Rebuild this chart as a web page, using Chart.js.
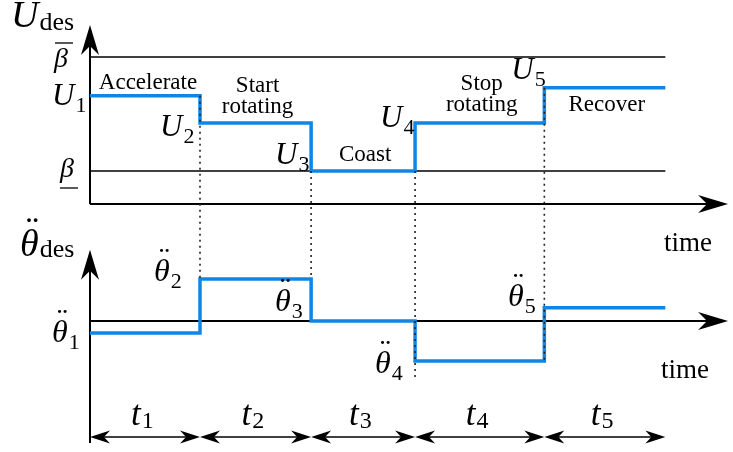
<!DOCTYPE html>
<html>
<head>
<meta charset="utf-8">
<script src="https://cdn.jsdelivr.net/npm/chart.js@4.4.0/dist/chart.umd.min.js"></script>
<style>
  html, body { margin: 0; padding: 0; background: #fff; }
</style>
</head>
<body>
<canvas id="chart" width="733" height="452"></canvas>
<script>
// phase boundaries (time units)
const tBounds = [0, 1.0, 2.01, 2.955, 4.13, 5.23];
const phaseNames = [['Accelerate'], ['Start', 'rotating'], ['Coast'], ['Stop', 'rotating'], ['Recover']];
// thrust command per phase, with the bounds beta_min = 0 and beta_max = 1
const uValues = [0.66, 0.42, 0, 0.42, 0.73];
const betaMin = 0;
const betaMax = 1;
// desired angular acceleration per phase
const thetaValues = [-0.3, 1.05, 0, -1.0, 0.33];
const tEnd = 5.8;

const BLUE = '#0f86e6';
const SERIF = '"Liberation Serif", "DejaVu Serif", serif';

function stepPoints(vals) {
  const pts = vals.map((v, i) => ({ x: tBounds[i], y: v }));
  pts.push({ x: tBounds[tBounds.length - 1], y: vals[vals.length - 1] });
  return pts;
}

function arrowHead(ctx, x, y, dir, len, half) {
  // dir: angle in radians the arrow points to
  ctx.save();
  ctx.translate(x, y);
  ctx.rotate(dir);
  ctx.beginPath();
  ctx.moveTo(0, 0);
  ctx.lineTo(-len, -half);
  ctx.lineTo(-len * 0.7, 0);
  ctx.lineTo(-len, half);
  ctx.closePath();
  ctx.fillStyle = '#000';
  ctx.fill();
  ctx.restore();
}

function line(ctx, x1, y1, x2, y2) {
  ctx.beginPath();
  ctx.moveTo(x1, y1);
  ctx.lineTo(x2, y2);
  ctx.stroke();
}

// italic symbol with upright subscript, x = left, y = baseline
function mathLabel(ctx, sym, sub, x, y, size, subSize, subDrop, dots) {
  ctx.textAlign = 'left';
  ctx.textBaseline = 'alphabetic';
  ctx.fillStyle = '#000';
  ctx.font = 'italic ' + size + 'px ' + SERIF;
  ctx.fillText(sym, x, y);
  const w = ctx.measureText(sym).width;
  if (dots) {
    // double dot accent above the symbol
    ctx.font = size + 'px ' + SERIF;
    ctx.textAlign = 'center';
    ctx.fillText('\u00A8', x + w / 2 + size * 0.08, y - size * 0.36);
    ctx.textAlign = 'left';
  }
  ctx.font = subSize + 'px ' + SERIF;
  ctx.fillText(sub, x + w + 1, y + subDrop);
}

const diagram = {
  id: 'diagram',
  beforeDatasetsDraw(chart) {
    const ctx = chart.ctx;
    const xs = chart.scales.x, yu = chart.scales.yU, yt = chart.scales.yT;
    const x0 = xs.getPixelForValue(0), xe = xs.getPixelForValue(tEnd);
    ctx.save();
    ctx.strokeStyle = '#000';
    // top panel axes
    ctx.lineWidth = 2;
    const topAxisY = yu.getPixelForValue(-0.29);
    const topTip = yu.getPixelForValue(1.28);
    line(ctx, x0, topAxisY, x0, topTip + 20);
    line(ctx, x0, topAxisY, xe - 20, topAxisY);
    arrowHead(ctx, x0, topTip, -Math.PI / 2, 30, 9);
    arrowHead(ctx, xe, topAxisY, 0, 30, 9);
    // bounds
    ctx.lineWidth = 1.3;
    const xl = xs.getPixelForValue(tBounds[tBounds.length - 1]);
    line(ctx, x0, yu.getPixelForValue(betaMax), xl, yu.getPixelForValue(betaMax));
    line(ctx, x0, yu.getPixelForValue(betaMin), xl, yu.getPixelForValue(betaMin));
    // bottom panel axes
    ctx.lineWidth = 2;
    const botAxisY = yt.getPixelForValue(0);
    const botTip = yt.getPixelForValue(1.78);
    line(ctx, x0, yt.getPixelForValue(-3.05), x0, botTip + 20);
    line(ctx, x0, botAxisY, xe - 20, botAxisY);
    arrowHead(ctx, x0, botTip, -Math.PI / 2, 30, 9);
    arrowHead(ctx, xe, botAxisY, 0, 30, 9);
    // duration arrows
    ctx.lineWidth = 1.3;
    const ay = yt.getPixelForValue(-2.9);
    for (let i = 0; i < tBounds.length - 1; i++) {
      const a = xs.getPixelForValue(tBounds[i]), b = xs.getPixelForValue(tBounds[i + 1]);
      line(ctx, a + 8, ay, b - 8, ay);
      arrowHead(ctx, a, ay, Math.PI, 20, 6.5);
      arrowHead(ctx, b, ay, 0, 20, 6.5);
    }
    ctx.restore();
  },
  afterDatasetsDraw(chart) {
    const ctx = chart.ctx;
    const xs = chart.scales.x, yu = chart.scales.yU, yt = chart.scales.yT;
    const px = t => xs.getPixelForValue(t);
    ctx.save();
    // dotted phase separators
    ctx.strokeStyle = '#222';
    ctx.lineWidth = 1.6;
    ctx.setLineDash([2, 4]);
    const dotTops = [uValues[0], betaMin, betaMin, uValues[4]];
    const dotBottoms = [thetaValues[1], thetaValues[1], -1.48, thetaValues[3]];
    for (let i = 1; i <= 4; i++) {
      const x = px(tBounds[i]);
      line(ctx, x, yu.getPixelForValue(dotTops[i - 1]), x, yt.getPixelForValue(dotBottoms[i - 1]));
    }
    ctx.setLineDash([]);

    // axis titles
    mathLabel(ctx, 'U', 'des', 11, 27, 38, 26, 3, false);
    mathLabel(ctx, '\u03B8', 'des', 20, 256, 38, 26, 1, true);
    ctx.font = '27px ' + SERIF;
    ctx.textAlign = 'left';
    ctx.fillText('time', 664, yu.getPixelForValue(-0.29) + 47);
    ctx.fillText('time', 661, yt.getPixelForValue(0) + 57);

    // beta bounds
    ctx.font = 'italic 28px ' + SERIF;
    const bTop = yu.getPixelForValue(betaMax), bBot = yu.getPixelForValue(betaMin);
    ctx.fillText('\u03B2', 54, bTop + 10);
    ctx.fillText('\u03B2', 60, bBot + 6);
    ctx.lineWidth = 1.3;
    ctx.strokeStyle = '#000';
    line(ctx, 55, bTop - 14, 73, bTop - 14);
    line(ctx, 60, bBot + 17, 78, bBot + 17);

    // U labels
    const uOff = [[0, 9], [-40, 13], [-36, -7], [-35, 4], [-33, -9]];
    uValues.forEach((v, i) => {
      const x = i === 0 ? 52 : px(tBounds[i]) + uOff[i][0];
      const y = yu.getPixelForValue(v) + uOff[i][1];
      mathLabel(ctx, 'U', String(i + 1), x, y, 31, 22, 7, false);
    });

    // theta labels
    const thPos = [[52, 342], [154, 281], [275, 311], [375, 373], [508, 306]];
    thetaValues.forEach((v, i) => {
      mathLabel(ctx, '\u03B8', String(i + 1), thPos[i][0], thPos[i][1], 32, 22, 7, true);
    });

    // phase names
    ctx.font = '23px ' + SERIF;
    ctx.textAlign = 'center';
    ctx.fillStyle = '#000';
    const nameY = [89, 92, 161, 90, 111];
    phaseNames.forEach((lines, i) => {
      const cx = (px(tBounds[i]) + px(tBounds[i + 1])) / 2 + (i === 0 ? 3 : 2);
      lines.forEach((s, j) => ctx.fillText(s, cx, nameY[i] + j * 21));
    });

    // durations
    const ty = yt.getPixelForValue(-2.9) - 12;
    for (let i = 0; i < tBounds.length - 1; i++) {
      const cx = (px(tBounds[i]) + px(tBounds[i + 1])) / 2;
      mathLabel(ctx, 't', String(i + 1), cx - 14, ty, 35, 24, 3, false);
    }
    ctx.restore();
  }
};

new Chart(document.getElementById('chart'), {
  type: 'scatter',
  data: {
    datasets: [
      {
        data: stepPoints(uValues),
        yAxisID: 'yU',
        showLine: true,
        stepped: true,
        borderColor: BLUE,
        borderWidth: 3.5,
        pointRadius: 0,
        fill: false
      },
      {
        data: stepPoints(thetaValues),
        yAxisID: 'yT',
        showLine: true,
        stepped: true,
        borderColor: BLUE,
        borderWidth: 3.5,
        pointRadius: 0,
        fill: false
      }
    ]
  },
  options: {
    responsive: false,
    animation: false,
    layout: { padding: 0 },
    scales: {
      x: { type: 'linear', min: -0.818, max: 5.845, display: false },
      yU: { type: 'linear', position: 'left', min: -2.465, max: 1.5, display: false },
      yT: { type: 'linear', position: 'left', min: -3.275, max: 8.025, display: false }
    },
    plugins: {
      legend: { display: false },
      tooltip: { enabled: false }
    }
  },
  plugins: [diagram]
});
</script>
</body>
</html>
